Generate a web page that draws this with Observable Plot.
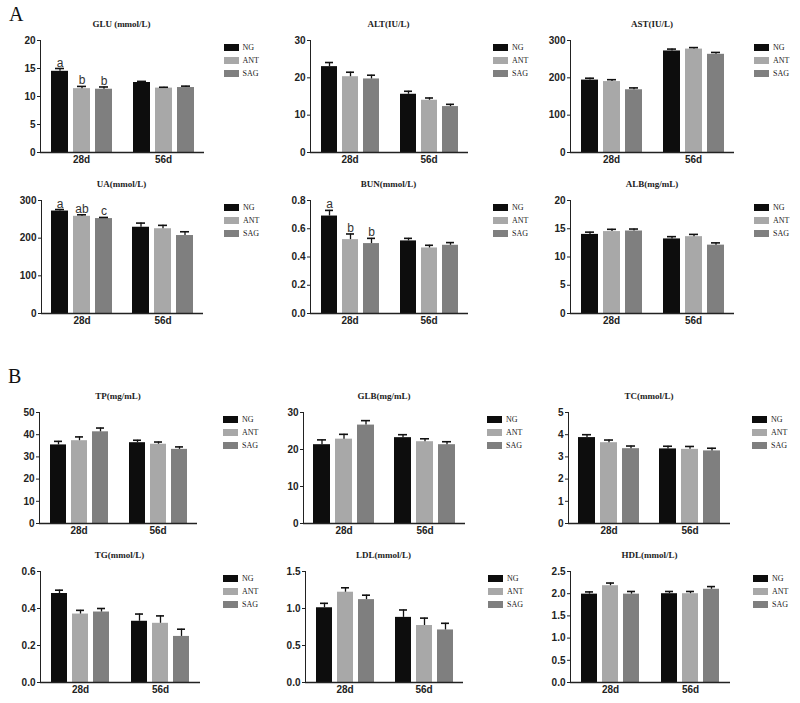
<!DOCTYPE html>
<html><head><meta charset="utf-8">
<script src="https://cdn.jsdelivr.net/npm/d3@7"></script>
<script src="https://cdn.jsdelivr.net/npm/@observablehq/plot@0.6"></script>
<style>
body{margin:0;background:#fff;}
#root{position:relative;width:800px;height:703px;overflow:hidden;background:#fff;}
.panel{position:absolute;}
.title{position:absolute;font-family:"Liberation Serif","Times New Roman",serif;font-weight:bold;font-size:9px;line-height:12px;color:#222;white-space:nowrap;transform:translateX(-50%);}
.legend{position:absolute;font-family:"Liberation Serif","Times New Roman",serif;font-size:8px;color:#222;}
.legend .row{display:flex;align-items:center;height:13px;}
.legend .sw{width:15px;height:7px;margin-right:4px;}
.big{position:absolute;font-family:"Liberation Serif","Times New Roman",serif;font-size:20px;line-height:20px;color:#111;}
</style></head><body><div id="root"></div><script>
// ---- data ----
const days = ["28d", "56d"];
const groups = ["NG", "ANT", "SAG"];
const groupColors = ["#0d0d0d", "#a8a8a8", "#7f7f7f"];

// values ordered: NG28, ANT28, SAG28, NG56, ANT56, SAG56
const GLU = [14.5, 11.4, 11.3, 12.5, 11.5, 11.6];
const GLU_err = [0.5, 0.4, 0.4, 0.2, 0.15, 0.25];
const GLU_letters = ["a", "b", "b", "", "", ""];
const ALT = [23.0, 20.3, 19.7, 15.6, 14.0, 12.3];
const ALT_err = [1.1, 1.2, 1.0, 0.8, 0.6, 0.6];
const AST = [194, 190, 168, 272, 277, 263];
const AST_err = [5, 5, 5, 5, 4, 5];
const UA = [272, 258, 252, 229, 225, 207];
const UA_err = [4, 4, 3, 11, 9, 10];
const UA_letters = ["a", "ab", "c", "", "", ""];
const BUN = [0.69, 0.523, 0.495, 0.514, 0.464, 0.483];
const BUN_err = [0.04, 0.04, 0.037, 0.018, 0.019, 0.019];
const BUN_letters = ["a", "b", "b", "", "", ""];
const ALB = [14.0, 14.5, 14.6, 13.2, 13.6, 12.1];
const ALB_err = [0.4, 0.4, 0.35, 0.4, 0.4, 0.4];
const TP = [35.4, 37.3, 41.3, 36.4, 35.7, 33.4];
const TP_err = [1.6, 1.7, 1.7, 1.1, 1.0, 1.1];
const GLB = [21.3, 22.8, 26.6, 23.2, 22.1, 21.3];
const GLB_err = [1.3, 1.3, 1.2, 0.8, 0.8, 0.8];
const TC = [3.87, 3.64, 3.37, 3.36, 3.34, 3.27];
const TC_err = [0.13, 0.12, 0.12, 0.12, 0.13, 0.12];
const TG = [0.481, 0.370, 0.381, 0.331, 0.320, 0.249];
const TG_err = [0.018, 0.02, 0.019, 0.039, 0.04, 0.039];
const LDL = [1.01, 1.22, 1.12, 0.88, 0.77, 0.71];
const LDL_err = [0.06, 0.06, 0.06, 0.10, 0.10, 0.09];
const HDL = [1.99, 2.18, 1.99, 2.00, 2.00, 2.10];
const HDL_err = [0.05, 0.06, 0.06, 0.05, 0.05, 0.06];

const titles = ["GLU (mmol/L)", "ALT(IU/L)", "AST(IU/L)", "UA(mmol/L)", "BUN(mmol/L)", "ALB(mg/mL)",
  "TP(mg/mL)", "GLB(mg/mL)", "TC(mmol/L)", "TG(mmol/L)", "LDL(mmol/L)", "HDL(mmol/L)"];
const yMaxes = [20, 30, 300, 300, 0.8, 20, 50, 30, 5, 0.6, 1.5, 2.5];
const yTickLabels = [
  [0, 5, 10, 15, 20], [0, 10, 20, 30], [0, 100, 200, 300],
  [0, 100, 200, 300], [0, 0.2, 0.4, 0.6, 0.8], [0, 5, 10, 15, 20],
  [0, 10, 20, 30, 40, 50], [0, 10, 20, 30], [0, 1, 2, 3, 4, 5],
  [0, 0.2, 0.4, 0.6], [0, 0.5, 1.0, 1.5], [0, 0.5, 1.0, 1.5, 2.0, 2.5]
];
const tickFormats = ["d", "d", "d", "d", ".1f", "d", "d", "d", "d", ".1f", ".1f", ".1f"];
const valueSets = [GLU, ALT, AST, UA, BUN, ALB, TP, GLB, TC, TG, LDL, HDL];
const errorSets = [GLU_err, ALT_err, AST_err, UA_err, BUN_err, ALB_err, TP_err, GLB_err, TC_err, TG_err, LDL_err, HDL_err];
const letterSets = [GLU_letters, null, null, UA_letters, BUN_letters, null, null, null, null, null, null, null];

// ---- layout ----
const axisXs = [39.5, 309, 570, 40, 309, 570, 39, 303, 568, 39, 304, 569];
const plotWidths = [164, 159, 164, 163, 159, 164, 158, 162, 162, 161, 159, 161];
const rowTop = [40, 200, 412, 571];
const rowBottom = [152, 313, 523, 682];

const root = document.getElementById("root");

function addBig(text, left, top) {
  const d = document.createElement("div");
  d.className = "big"; d.textContent = text;
  d.style.left = left + "px"; d.style.top = top + "px";
  root.appendChild(d);
}
addBig("A", 9, 4);
addBig("B", 8, 366);

titles.forEach((title, k) => {
  const row = Math.floor(k / 3);
  const ax = axisXs[k], w = plotWidths[k];
  const yTop = rowTop[row], yBot = rowBottom[row];
  const vals = valueSets[k], errs = errorSets[k], lets = letterSets[k];
  const data = [];
  days.forEach((d, i) => groups.forEach((g, j) => {
    const n = i * 3 + j;
    data.push({day: d, group: g, value: vals[n], top: vals[n] + errs[n], letter: lets ? lets[n] : ""});
  }));
  const mL = 30, mR = 2, mT = 4, mB = 20;
  const h = yBot - yTop;
  const chart = Plot.plot({
    width: mL + w + mR,
    height: mT + h + mB,
    marginLeft: mL, marginRight: mR, marginTop: mT, marginBottom: mB,
    style: {background: "transparent", fontFamily: "'Liberation Sans', Arial, sans-serif", fontSize: "10px", fontWeight: "bold", color: "#222", overflow: "visible"},
    facet: {data, x: "day"},
    fx: {domain: days, padding: 0, axis: "bottom", tickSize: 0, tickPadding: 3, label: null},
    x: {domain: groups, axis: null, paddingInner: 0.25, paddingOuter: 0.46},
    y: {domain: [0, yMaxes[k]], ticks: yTickLabels[k], tickFormat: d3.format(tickFormats[k]), tickSize: 3, tickPadding: 2, line: true, label: null},
    color: {domain: groups, range: groupColors},
    marks: [
      Plot.barY(data, {x: "group", y: "value", fill: "group"}),
      Plot.ruleX(data, {x: "group", y1: "value", y2: "top", stroke: "#111", strokeWidth: 1.3}),
      Plot.tickY(data, {x: "group", y: "top", stroke: "#111", strokeWidth: 1.6, insetLeft: 4, insetRight: 4}),
      Plot.ruleY([0], {stroke: "#222", strokeWidth: 1.3}),
      Plot.text(data, {filter: d => d.letter, x: "group", y: "top", text: "letter", dy: -2, lineAnchor: "bottom", fontSize: 12, fontWeight: "normal", fill: "#333"})
    ]
  });
  const holder = document.createElement("div");
  holder.className = "panel";
  holder.style.left = (ax - mL) + "px";
  holder.style.top = (yTop - mT) + "px";
  holder.appendChild(chart);
  root.appendChild(holder);

  const t = document.createElement("div");
  t.className = "title"; t.textContent = title;
  t.style.left = (ax + w / 2) + "px";
  t.style.top = (yTop - 22) + "px";
  root.appendChild(t);

  const lg = document.createElement("div");
  lg.className = "legend";
  lg.style.left = (ax + 184) + "px";
  lg.style.top = (yTop + 1) + "px";
  groups.forEach((g, j) => {
    const r = document.createElement("div"); r.className = "row";
    const sw = document.createElement("span"); sw.className = "sw"; sw.style.background = groupColors[j];
    const tx = document.createElement("span"); tx.textContent = g;
    r.appendChild(sw); r.appendChild(tx); lg.appendChild(r);
  });
  root.appendChild(lg);
});
</script></body></html>
